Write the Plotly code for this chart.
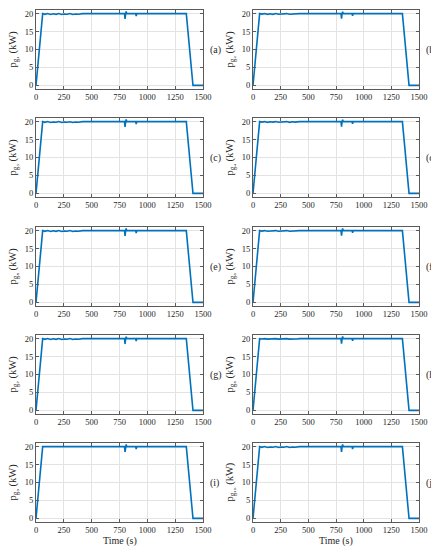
import plotly.graph_objects as go
from plotly.subplots import make_subplots

## data ##
time_s = [0, 60, 80, 105, 130, 155, 180, 205, 230, 255, 280, 305, 330, 355, 380, 400, 420,
          795, 800, 805, 810, 815, 820, 895, 900, 905, 1350, 1410, 1500]

p_g1 = [0, 20, 19.8, 20, 19.75, 19.95, 19.8, 20, 19.75, 19.9, 19.8, 20, 19.75, 19.9, 19.8, 19.85, 20,
        20, 18.5, 20, 20.6, 20, 20, 20, 19.3, 20, 20, 0, 0]
p_g2 = [0, 20, 19.85, 20, 19.8, 19.95, 19.8, 20, 19.8, 19.9, 19.85, 20, 19.8, 19.9, 19.85, 19.9, 20,
        20, 18.6, 20, 20.5, 20, 20, 20, 19.4, 20, 20, 0, 0]
p_g3 = [0, 20, 19.8, 20, 19.75, 19.9, 19.8, 20, 19.75, 19.9, 19.8, 19.95, 19.75, 19.9, 19.8, 19.85, 20,
        20, 18.5, 20, 20.6, 20, 20, 20, 19.3, 20, 20, 0, 0]
p_g4 = [0, 20, 19.85, 20, 19.8, 19.95, 19.85, 20, 19.8, 19.9, 19.85, 20, 19.8, 19.95, 19.85, 19.9, 20,
        20, 18.6, 20, 20.5, 20, 20, 20, 19.4, 20, 20, 0, 0]
p_g5 = [0, 20, 19.8, 20, 19.75, 19.95, 19.8, 20, 19.75, 19.9, 19.8, 20, 19.75, 19.9, 19.8, 19.85, 20,
        20, 18.5, 20, 20.6, 20, 20, 20, 19.3, 20, 20, 0, 0]
p_g6 = [0, 20, 19.85, 20, 19.8, 19.9, 19.85, 20, 19.8, 19.9, 19.85, 20, 19.8, 19.9, 19.85, 19.9, 20,
        20, 18.6, 20, 20.6, 20, 20, 20, 19.4, 20, 20, 0, 0]
p_g7 = [0, 20, 19.8, 20, 19.75, 19.95, 19.8, 20, 19.75, 19.9, 19.8, 20, 19.75, 19.9, 19.8, 19.85, 20,
        20, 18.5, 20, 20.5, 20, 20, 20, 19.3, 20, 20, 0, 0]
p_g8 = [0, 20, 19.9, 20, 19.85, 19.95, 19.9, 20, 19.85, 19.95, 19.9, 20, 19.85, 19.95, 19.9, 19.9, 20,
        20, 18.6, 20, 20.6, 20, 20, 20, 19.4, 20, 20, 0, 0]
p_g9 = [0, 20, 20, 20, 19.95, 20, 19.95, 20, 20, 19.95, 20, 20, 19.95, 20, 20, 20, 20,
        20, 18.5, 20, 20.6, 20, 20, 20, 19.3, 20, 20, 0, 0]
p_g10 = [0, 20, 19.8, 20, 19.75, 19.9, 19.8, 20, 19.75, 19.9, 19.8, 20, 19.75, 19.9, 19.8, 19.85, 20,
         20, 18.5, 20, 20.6, 20, 20, 20, 19.3, 20, 20, 0, 0]

series = [p_g1, p_g2, p_g3, p_g4, p_g5, p_g6, p_g7, p_g8, p_g9, p_g10]
panel_tags = ["(a)", "(b)", "(c)", "(d)", "(e)", "(f)", "(g)", "(h)", "(i)", "(j)"]
gen_sub = ["₁", "₂", "₃", "₄", "₅", "₆", "₇", "₈", "₉", "₁₀"]
x_ticks = [0, 250, 500, 750, 1000, 1250, 1500]
y_ticks = [0, 5, 10, 15, 20]

## layout, in window pixels (page body has an 8px margin) ##
OFF = 8
W, H = 439 - OFF, 550 - OFF
ml, mr, mt, mb = 36 - OFF, 20, 2, 28
pw = W - ml - mr
ph = H - mt - mb
col_px = [(36, 203), (253, 419)]
row_top = [10, 118, 227, 335, 443]
row_h = 79

def px_x(x):
    return (x - OFF - ml) / pw

def px_y(y):
    return (H - mb - (y - OFF)) / ph

font = "Liberation Serif"
blue = "#0072BD"
axcol = "#5a5a5a"
txt = "#262626"

fig = make_subplots(rows=5, cols=2)

for k, p in enumerate(series):
    r = k // 2
    c = k % 2
    fig.add_trace(go.Scatter(x=time_s, y=p, mode="lines",
                             line=dict(color=blue, width=1.6), showlegend=False),
                  row=r + 1, col=c + 1)
    top = row_top[r]
    bot = top + row_h
    n = "" if k == 0 else str(k + 1)
    fig.layout["xaxis" + n].update(domain=[px_x(col_px[c][0]), px_x(col_px[c][1])])
    fig.layout["yaxis" + n].update(domain=[px_y(bot), px_y(top)])
    mid = (top + bot) / 2

    # panel tag
    fig.add_annotation(x=px_x(col_px[c][1] + 5), y=px_y(mid), xref="paper", yref="paper",
                       text=panel_tags[k], showarrow=False, xanchor="left", yanchor="middle",
                       font=dict(family=font, size=10, color=txt))
    # y title
    fig.add_annotation(x=px_x(col_px[c][0] - 23), y=px_y(mid), xref="paper", yref="paper",
                       text="p<sub>g" + gen_sub[k] + "</sub> (kW)", showarrow=False,
                       xanchor="center", yanchor="middle",
                       textangle=-90, font=dict(family=font, size=10.5, color=txt))

for c in range(2):
    fig.add_annotation(x=px_x((col_px[c][0] + col_px[c][1]) / 2), y=px_y(541), xref="paper", yref="paper",
                       text="Time (s)", showarrow=False, xanchor="center", yanchor="middle",
                       font=dict(family=font, size=10, color=txt))

fig.update_xaxes(range=[0, 1500], tickvals=x_ticks, showgrid=True, gridcolor="#e3e3e3", gridwidth=1,
                 showline=True, linecolor=axcol, linewidth=1, mirror="allticks",
                 ticks="inside", ticklen=3, tickcolor=axcol, zeroline=False,
                 tickfont=dict(family=font, size=8.5, color=txt))
fig.update_yaxes(range=[-1, 21], tickvals=y_ticks, showgrid=True, gridcolor="#e3e3e3", gridwidth=1,
                 showline=True, linecolor=axcol, linewidth=1, mirror="allticks",
                 ticks="inside", ticklen=3, tickcolor=axcol, zeroline=False,
                 tickfont=dict(family=font, size=8.5, color=txt))

fig.update_layout(width=W, height=H, margin=dict(l=ml, r=mr, t=mt, b=mb),
                  plot_bgcolor="white", paper_bgcolor="white")

fig.write_html("out.html")
